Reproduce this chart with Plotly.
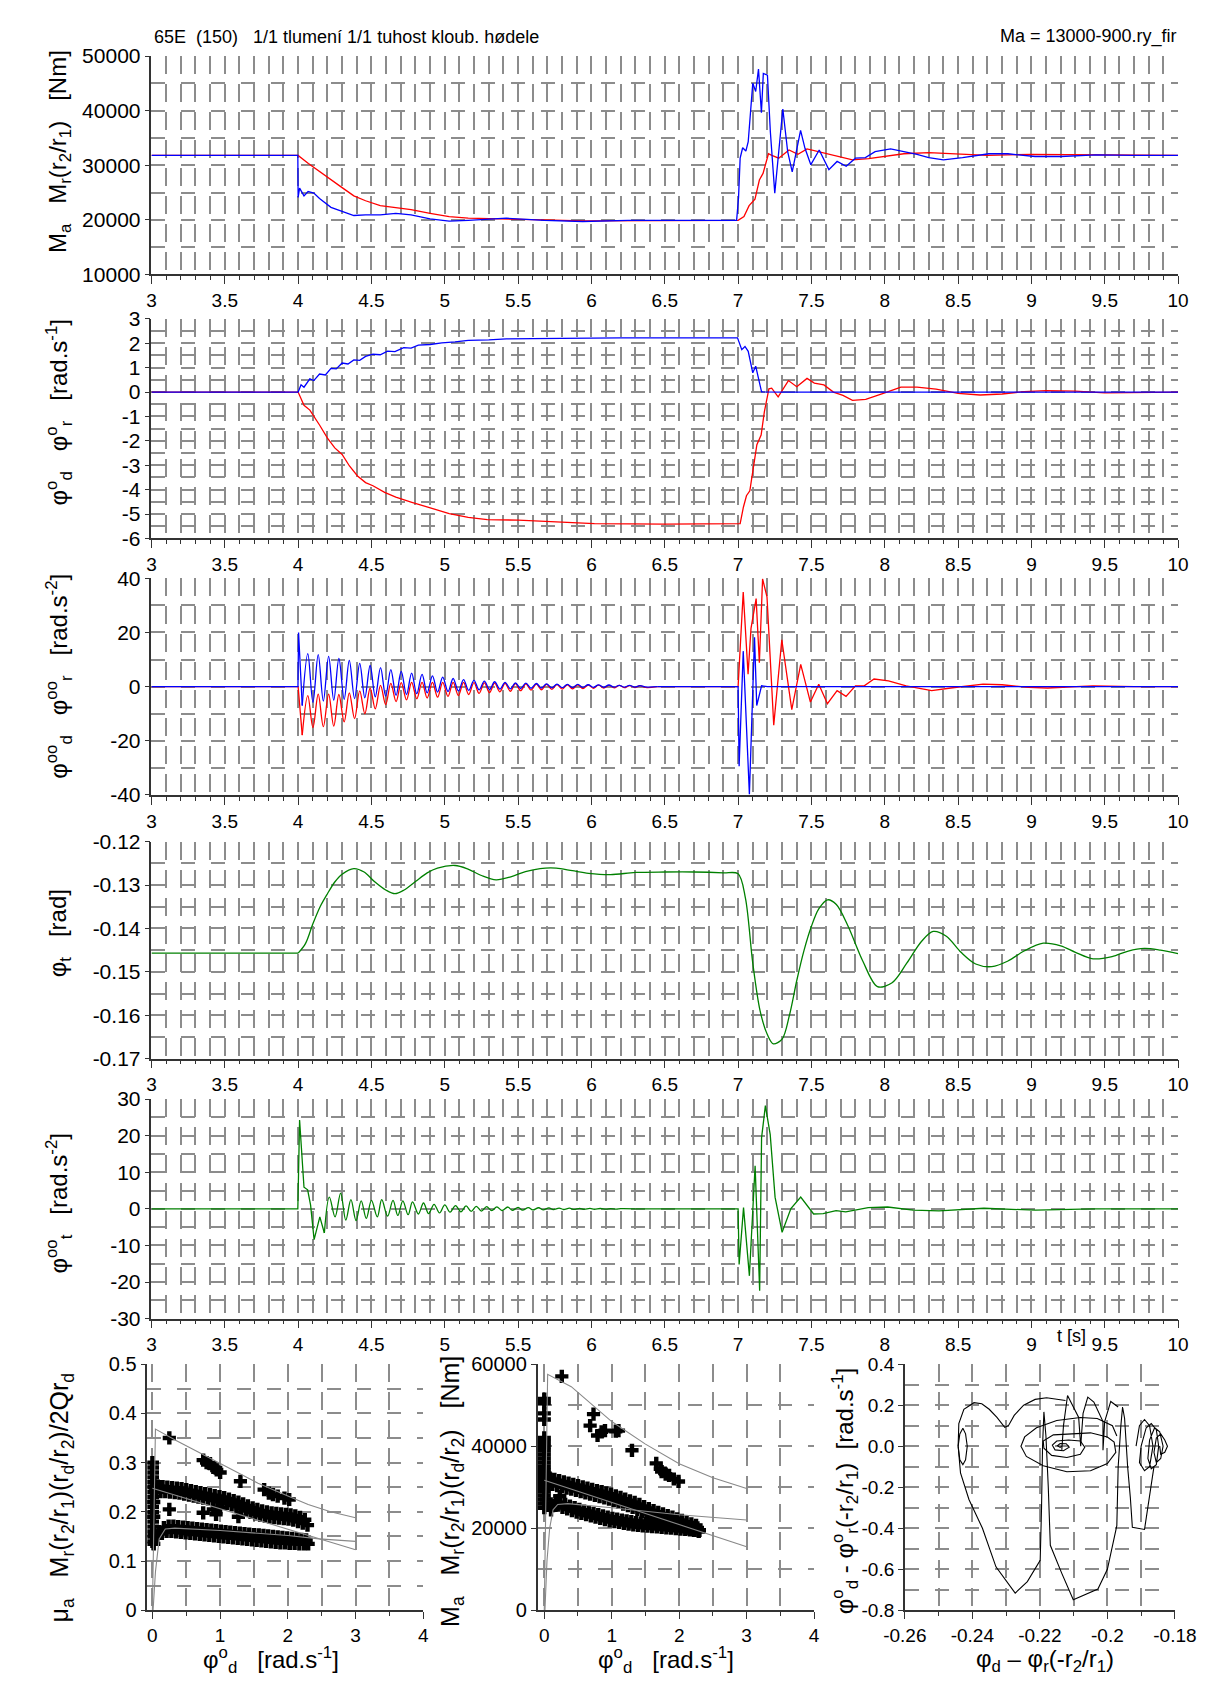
import plotly.graph_objects as go

# ---------------- DATA ----------------
# Panel 1: M_r(r2/r1) (red) and M_a (blue)  [Nm]
t_mr = [3.0, 4.0, 4.07, 4.146, 4.22, 4.30, 4.38, 4.46, 4.56, 4.666, 4.77, 4.9, 5.03, 5.16, 5.42, 5.68, 5.94, 6.3, 6.7,
        7.0, 7.04, 7.075, 7.115, 7.145, 7.17, 7.207, 7.23, 7.277, 7.347, 7.408, 7.47, 7.56, 7.67, 7.78, 7.89, 8.0,
        8.13, 8.3, 8.5, 8.7, 9.0, 9.3, 9.6, 10.0]
mr = [31800, 31800, 30300, 28900, 27400, 25900, 24400, 23500, 22600, 22280, 21860, 21200, 20600, 20300, 20200,
      20000, 19800, 19800, 19900, 19900, 20600, 22600, 23800, 27300, 28500, 32100, 31800, 31300, 32800, 32000,
      33000, 32400, 31600, 31000, 31200, 31600, 32100, 32300, 32000, 31800, 32000, 31900, 31800, 31800]
t_ma = [3.0, 3.998, 4.0, 4.01, 4.04, 4.068, 4.107, 4.146, 4.224, 4.30, 4.38, 4.46, 4.56, 4.666, 4.77, 4.9, 5.03,
        5.16, 5.42, 5.68, 5.94, 6.25, 6.6, 6.99, 7.003, 7.014, 7.031, 7.053, 7.069, 7.10, 7.12, 7.139, 7.159, 7.172,
        7.20, 7.22, 7.25, 7.277, 7.305, 7.338, 7.369, 7.426, 7.456, 7.496, 7.553, 7.619, 7.675, 7.737, 7.80, 7.868,
        7.934, 8.04, 8.13, 8.22, 8.30, 8.40, 8.53, 8.71, 8.84, 9.025, 9.2, 9.44, 9.7, 10.0]
ma = [31800, 31800, 24100, 25800, 24400, 25200, 24900, 23900, 22300, 21500, 20800, 20900, 20900, 21200, 20900,
      20200, 19750, 19900, 20300, 19900, 19700, 19900, 19900, 19900, 24100, 31300, 33200, 32600, 34300, 45000,
      43500, 47600, 39600, 46800, 46500, 36100, 24900, 31900, 40300, 32500, 28800, 36400, 33100, 30100, 32800,
      29200, 30700, 29800, 31300, 31400, 32500, 33000, 32500, 32000, 31400, 31000, 31400, 32100, 32100, 31600,
      31600, 31900, 31800, 31800]

# Panel 2: angular velocities [rad/s]
t_wd = [3.0, 4.0, 4.02, 4.04, 4.08, 4.107, 4.146, 4.186, 4.224, 4.26, 4.30, 4.34, 4.38, 4.42, 4.46, 4.51, 4.56,
        4.61, 4.66, 4.72, 4.77, 4.82, 4.9, 4.98, 5.07, 5.16, 5.3, 5.42, 5.6, 5.81, 6.2, 6.6, 6.996, 7.025, 7.047,
        7.069, 7.10, 7.12, 7.16, 7.3, 8.0, 9.0, 10.0]
wd = [0.0, 0.0, 0.30, 0.20, 0.54, 0.47, 0.74, 0.70, 0.97, 0.95, 1.19, 1.15, 1.32, 1.30, 1.46, 1.55, 1.53, 1.68,
      1.66, 1.82, 1.80, 1.92, 1.95, 2.02, 2.06, 2.12, 2.14, 2.18, 2.19, 2.21, 2.22, 2.22, 2.22, 1.74, 1.87, 1.67,
      0.79, 1.06, 0.01, 0.0, 0.0, 0.0, 0.0]
t_wr = [3.0, 4.0, 4.04, 4.08, 4.146, 4.2, 4.25, 4.30, 4.35, 4.405, 4.46, 4.51, 4.59, 4.666, 4.77, 4.9, 5.03, 5.16,
        5.29, 5.5, 5.81, 6.02, 6.5, 7.0, 7.014, 7.036, 7.057, 7.08, 7.106, 7.128, 7.157, 7.179, 7.21, 7.229, 7.273,
        7.343, 7.40, 7.47, 7.52, 7.585, 7.65, 7.715, 7.78, 7.87, 8.0, 8.11, 8.22, 8.35, 8.5, 8.65, 8.8, 8.95, 9.1,
        9.3, 9.5, 9.7, 10.0]
wr = [0.0, 0.0, -0.54, -0.74, -1.35, -1.89, -2.29, -2.56, -3.03, -3.44, -3.71, -3.84, -4.11, -4.31, -4.51, -4.74,
      -4.98, -5.14, -5.23, -5.25, -5.35, -5.39, -5.41, -5.42, -5.39, -4.72, -4.25, -4.05, -2.97, -2.16, -1.76,
      -0.81, 0.13, 0.16, -0.20, 0.47, 0.22, 0.56, 0.37, 0.29, 0.0, -0.14, -0.34, -0.30, -0.03, 0.20, 0.20, 0.12,
      -0.05, -0.12, -0.08, 0.02, 0.06, 0.04, -0.03, -0.03, 0.0]

# Panel 3: angular accelerations [rad/s^2]; oscillation after t=4 read peak by peak
osc_t_peak = [4.066, 4.137, 4.208, 4.278, 4.349, 4.420, 4.491, 4.562, 4.632, 4.703, 4.774, 4.845, 4.916, 4.986,
              5.057, 5.128, 5.199, 5.270, 5.340, 5.411, 5.482, 5.553, 5.624, 5.694, 5.765, 5.836, 5.907, 5.978,
              6.048, 6.119, 6.190, 6.260, 6.331]
osc_t_trough = [4.101, 4.172, 4.243, 4.314, 4.385, 4.455, 4.526, 4.597, 4.668, 4.739, 4.809, 4.880, 4.951, 5.022,
                5.093, 5.163, 5.234, 5.305, 5.376, 5.447, 5.517, 5.588, 5.659, 5.730, 5.801, 5.871, 5.942, 6.013,
                6.084, 6.155, 6.225, 6.296, 6.367]
ad_peak = [12.2, 11.8, 11.2, 10.4, 9.7, 8.6, 7.8, 7.0, 6.3, 5.6, 5.0, 4.5, 4.0, 3.5, 3.0, 2.6, 2.3, 2.0, 1.8, 1.6,
           1.4, 1.3, 1.15, 1.05, 0.95, 0.85, 0.8, 0.7, 0.65, 0.6, 0.5, 0.45, 0.4]
ad_trough = [-5.8, -5.3, -5.0, -4.7, -4.4, -4.1, -3.8, -3.5, -3.2, -2.9, -2.6, -2.3, -2.0, -1.8, -1.6, -1.4, -1.2,
             -1.05, -0.9, -0.8, -0.7, -0.6, -0.5, -0.45, -0.4, -0.35, -0.3, -0.27, -0.24, -0.2, -0.18, -0.15, -0.12]
ar_peak = [-3.3, -2.8, -2.8, -2.9, -2.3, -1.6, -0.6, 0.5, 1.2, 1.5, 1.6, 1.6, 1.6, 1.6, 1.6, 1.6, 1.5, 1.4, 1.3,
           1.2, 1.1, 1.0, 0.9, 0.8, 0.75, 0.7, 0.65, 0.6, 0.55, 0.5, 0.45, 0.4, 0.35]
ar_trough = [-15.1, -14.8, -14.6, -13.0, -11.8, -10.0, -8.2, -6.6, -5.5, -4.9, -4.5, -4.2, -3.9, -3.6, -3.3, -2.9,
             -2.5, -2.2, -1.9, -1.7, -1.5, -1.3, -1.15, -1.0, -0.9, -0.8, -0.7, -0.6, -0.5, -0.45, -0.4, -0.35, -0.3]
t_ad_start = [3.0, 3.999, 4.003, 4.028]
ad_start = [0.0, 0.0, 20.0, -7.0]
t_ar_start = [3.0, 4.0, 4.028]
ar_start = [0.0, 0.0, -17.9]
t_ad_end = [6.45, 7.0, 7.007, 7.035, 7.077, 7.112, 7.127, 7.16, 7.2, 10.0]
ad_end = [0.0, 0.0, -29.4, 13.1, -39.7, 18.2, -7.0, 0.3, 0.0, 0.0]
t_ar_end = [6.45, 7.0, 7.035, 7.068, 7.088, 7.123, 7.145, 7.167, 7.197, 7.243, 7.298, 7.366, 7.427, 7.493, 7.55,
            7.609, 7.675, 7.736, 7.80, 7.86, 7.927, 8.025, 8.146, 8.32, 8.45, 8.67, 8.80, 8.98, 9.11, 9.42, 9.7, 10.0]
ar_end = [0.0, 0.0, 34.9, 4.6, 21.5, 32.5, 8.8, 39.8, 33.1, -14.2, 17.3, -8.5, 8.2, -5.7, 0.9, -6.3, -1.5, -3.6,
          0.3, 0.3, 2.8, 2.1, 0.3, -1.5, -0.5, 0.9, 0.7, -0.3, -0.5, 0.3, 0.0, 0.0]

# Panel 4: phi_t [rad]
t_pt_flat = [3.0, 4.0]
pt_flat = [-0.1457, -0.1457]
t_pt = [4.0, 4.05, 4.1, 4.15, 4.2, 4.25, 4.3, 4.38, 4.45, 4.52, 4.6, 4.66, 4.72, 4.8, 4.88, 4.95, 5.07, 5.15,
        5.25, 5.35, 5.45, 5.55, 5.65, 5.76, 5.87, 5.98, 6.13, 6.3, 6.5, 6.7, 6.9, 7.0, 7.05, 7.1, 7.15, 7.2, 7.24,
        7.3, 7.35, 7.4, 7.45, 7.5, 7.55, 7.61, 7.67, 7.75, 7.85, 7.95, 8.05, 8.15, 8.25, 8.33, 8.42, 8.52, 8.62,
        8.73, 8.84, 8.95, 9.08, 9.2, 9.3, 9.42, 9.55, 9.66, 9.77, 9.88, 10.0]
pt = [-0.1457, -0.1435, -0.1390, -0.1350, -0.1320, -0.1293, -0.1275, -0.1262, -0.1270, -0.1292, -0.1312,
      -0.1320, -0.1312, -0.1292, -0.1272, -0.1261, -0.1255, -0.1262, -0.1278, -0.1288, -0.1281, -0.1269, -0.1262,
      -0.1261, -0.1267, -0.1273, -0.1276, -0.1271, -0.1270, -0.1270, -0.1272, -0.1274, -0.1330, -0.1480, -0.1590,
      -0.1645, -0.1666, -0.1655, -0.1600, -0.1520, -0.1450, -0.1395, -0.1355, -0.1334, -0.1345, -0.1395, -0.1475,
      -0.1534, -0.1525, -0.1480, -0.1430, -0.1407, -0.1418, -0.1455, -0.1482, -0.1488, -0.1475, -0.1452, -0.1434,
      -0.1440, -0.1455, -0.1470, -0.1465, -0.1452, -0.1446, -0.1450, -0.1458]

# Panel 5: phi_t'' [rad/s^2]
t_at_a = [3.0, 3.998, 4.01, 4.04, 4.065, 4.085, 4.109, 4.148, 4.179]
at_a = [0.0, 0.0, 24.3, 5.9, 5.2, 1.0, -8.4, -2.2, -6.6]
t_at_b = [4.179, 4.213, 4.252, 4.29, 4.325, 4.36, 4.395, 4.43, 4.465, 4.50, 4.54, 4.57, 4.61, 4.647, 4.68, 4.714,
          4.75, 4.78, 4.82, 4.855, 4.89, 4.927, 4.964, 5.0, 5.036, 5.073, 5.11, 5.145, 5.18, 5.215, 5.25, 5.285,
          5.32, 5.355, 5.39, 5.43, 5.46, 5.5, 5.53, 5.57, 5.6, 5.64, 5.67, 5.71, 5.74, 5.78, 5.81, 5.85, 5.88, 5.92,
          5.95, 5.99, 6.02, 6.06, 6.1, 6.13, 6.17, 6.2, 6.3]
at_b = [-6.6, 3.2, -2.2, 4.3, -3.1, 2.5, -3.2, 2.2, -2.6, 2.3, -2.2, 2.5, -2.0, 2.3, -1.8, 2.2, -1.6, 1.9, -1.4,
        1.6, -1.3, 1.25, -1.1, 1.1, -0.9, 0.9, -0.8, 0.8, -0.7, 0.7, -0.6, 0.6, -0.5, 0.55, -0.45, 0.5, -0.4, 0.4,
        -0.35, 0.35, -0.3, 0.3, -0.25, 0.25, -0.2, 0.22, -0.18, 0.18, -0.15, 0.15, -0.12, 0.12, -0.1, 0.1, -0.08,
        0.08, -0.05, 0.05, 0.0]
t_at_c = [6.3, 7.0, 7.007, 7.037, 7.077, 7.116, 7.147, 7.16, 7.186, 7.219, 7.252, 7.30, 7.36, 7.427, 7.515, 7.58,
          7.668, 7.734, 7.887, 8.02, 8.194, 8.37, 8.676, 9.027, 9.42, 10.0]
at_c = [0.0, 0.0, -15.2, 0.35, -18.3, 11.8, -22.4, 19.4, 28.2, 20.3, 3.2, -6.4, 0.1, 3.2, -1.4, -1.3, -0.5, -0.8,
        0.35, 0.5, -0.37, -0.55, 0.17, -0.37, 0.0, 0.0]

# Bottom-left: mu_a vs phi_d' (markers) and fitted curves
mu_col = [(0, 0.30), (0, 0.29), (0, 0.28), (0, 0.27), (0, 0.26), (0, 0.25), (0, 0.24), (0, 0.23), (0, 0.22),
          (0, 0.21), (0, 0.20), (0, 0.19), (0, 0.18), (0, 0.17), (0, 0.16), (0, 0.15), (0, 0.14), (0.02, 0.135),
          (0.03, 0.155), (0.03, 0.26), (0.04, 0.24), (0.02, 0.22), (0.02, 0.19)]
mu_out = [(0.25, 0.35), (0.25, 0.205), (0.75, 0.198), (0.9, 0.205), (0.94, 0.195), (1.0, 0.208), (1.27, 0.19)]
mu_up = [(0.75, 0.305), (0.8, 0.30), (0.85, 0.298), (0.9, 0.29), (0.95, 0.285), (1.0, 0.28), (1.3, 0.262),
         (1.65, 0.245), (1.72, 0.238), (1.78, 0.235), (1.85, 0.232), (1.95, 0.228), (2.02, 0.225)]
mu_mid1 = [(0.08, 0.252), (0.15, 0.251), (0.22, 0.250), (0.29, 0.249), (0.36, 0.248), (0.43, 0.247), (0.5, 0.245),
           (0.57, 0.243), (0.64, 0.241), (0.71, 0.239), (0.78, 0.237), (0.85, 0.235), (0.92, 0.233), (0.99, 0.231),
           (1.06, 0.229), (1.13, 0.226), (1.2, 0.223), (1.27, 0.22), (1.34, 0.216), (1.41, 0.212), (1.48, 0.208),
           (1.55, 0.205), (1.62, 0.202), (1.69, 0.2), (1.76, 0.198), (1.83, 0.197), (1.9, 0.196), (1.97, 0.195),
           (2.04, 0.194), (2.11, 0.192), (2.18, 0.189), (2.25, 0.184)]
mu_mid2 = [(0.05, 0.242), (0.12, 0.241), (0.19, 0.241), (0.26, 0.24), (0.33, 0.239), (0.4, 0.238), (0.47, 0.236),
           (0.54, 0.234), (0.61, 0.232), (0.68, 0.23), (0.75, 0.228), (0.82, 0.226), (0.89, 0.224), (0.96, 0.222),
           (1.03, 0.22), (1.1, 0.217), (1.17, 0.214), (1.24, 0.211), (1.31, 0.207), (1.38, 0.203), (1.45, 0.199),
           (1.52, 0.196), (1.59, 0.193), (1.66, 0.191), (1.73, 0.189), (1.8, 0.188), (1.87, 0.187), (1.94, 0.186),
           (2.01, 0.185), (2.08, 0.183), (2.15, 0.18), (2.22, 0.177), (2.29, 0.173)]
mu_low1 = [(0.1, 0.16), (0.17, 0.168), (0.24, 0.171), (0.31, 0.171), (0.38, 0.17), (0.45, 0.169), (0.52, 0.168),
           (0.59, 0.167), (0.66, 0.166), (0.73, 0.165), (0.8, 0.164), (0.87, 0.163), (0.94, 0.162), (1.01, 0.161),
           (1.08, 0.16), (1.15, 0.159), (1.22, 0.158), (1.29, 0.157), (1.36, 0.156), (1.43, 0.155), (1.5, 0.154),
           (1.57, 0.153), (1.64, 0.152), (1.71, 0.151), (1.78, 0.15), (1.85, 0.149), (1.92, 0.148), (1.99, 0.147),
           (2.06, 0.146), (2.13, 0.145), (2.2, 0.144), (2.27, 0.143)]
mu_low2 = [(0.07, 0.148), (0.14, 0.156), (0.21, 0.16), (0.28, 0.16), (0.35, 0.159), (0.42, 0.158), (0.49, 0.157),
           (0.56, 0.156), (0.63, 0.155), (0.7, 0.154), (0.77, 0.153), (0.84, 0.152), (0.91, 0.151), (0.98, 0.15),
           (1.05, 0.149), (1.12, 0.148), (1.19, 0.147), (1.26, 0.146), (1.33, 0.145), (1.4, 0.144), (1.47, 0.143),
           (1.54, 0.142), (1.61, 0.141), (1.68, 0.14), (1.75, 0.139), (1.82, 0.138), (1.89, 0.137), (1.96, 0.137),
           (2.03, 0.136), (2.1, 0.136), (2.17, 0.135), (2.24, 0.135), (2.3, 0.135)]
mu_fit_top = [(0.0, 0.0), (0.045, 0.368), (0.35, 0.345), (0.72, 0.318), (1.23, 0.282), (1.56, 0.258), (2.0, 0.232),
              (2.3, 0.215), (2.63, 0.2), (3.0, 0.188)]
mu_fit_line = [(0.0, 0.248), (3.0, 0.123)]
mu_fit_low = [(0.01, 0.0), (0.045, 0.078), (0.1, 0.145), (0.19, 0.165), (0.33, 0.167), (1.0, 0.162), (2.0, 0.152),
              (2.46, 0.145), (3.0, 0.14)]

# Bottom-middle: M_a vs phi_d'
mm_col = [(0, 25000), (0, 26000), (0, 27000), (0, 28000), (0, 29000), (0, 30000), (0, 31000), (0, 32000),
          (0, 33000), (0, 34000), (0, 35000), (0, 36000), (0, 37000), (0, 38000), (0, 39000), (0, 40000),
          (0, 41000), (0, 42000), (0, 46500), (0, 48000), (0, 50500), (0, 51500), (0.03, 27000), (0.03, 33000)]
mm_out = [(0.26, 57000), (0.23, 27800), (1.3, 39000)]
mm_up = [(0.68, 45000), (0.73, 47800), (0.79, 42600), (0.85, 43500), (0.9, 43800), (1.06, 43650), (1.1, 43800),
         (1.66, 35800), (1.72, 34500), (1.74, 33800), (1.8, 33200), (1.85, 32900), (1.92, 32000), (1.99, 31400)]
mm_a1 = [(0.08, 32200), (0.15, 31900), (0.22, 31600), (0.29, 31300), (0.36, 31000), (0.43, 30700), (0.5, 30400),
         (0.57, 30100), (0.64, 29800), (0.71, 29500), (0.78, 29200), (0.85, 28900), (0.92, 28600), (0.99, 28300),
         (1.06, 27900), (1.13, 27500), (1.2, 27100), (1.27, 26700), (1.34, 26300), (1.41, 25800), (1.48, 25300),
         (1.55, 24800), (1.62, 24300), (1.69, 23900), (1.76, 23500), (1.83, 23100), (1.9, 22700), (1.97, 22300),
         (2.04, 21900), (2.11, 21500), (2.18, 21100), (2.25, 20700)]
mm_a2 = [(0.05, 31000), (0.12, 30700), (0.19, 30400), (0.26, 30100), (0.33, 29800), (0.4, 29500), (0.47, 29200),
         (0.54, 28900), (0.61, 28600), (0.68, 28300), (0.75, 28000), (0.82, 27700), (0.89, 27400), (0.96, 27100),
         (1.03, 26700), (1.1, 26300), (1.17, 25900), (1.24, 25500), (1.31, 25100), (1.38, 24600), (1.45, 24100),
         (1.52, 23600), (1.59, 23100), (1.66, 22700), (1.73, 22300), (1.8, 21900), (1.87, 21500), (1.94, 21100),
         (2.01, 20700), (2.08, 20300), (2.15, 19900), (2.22, 19500), (2.29, 19200)]
mm_b1 = [(0.1, 24500), (0.17, 26500), (0.24, 26200), (0.31, 25800), (0.38, 25400), (0.45, 25000), (0.52, 24600),
         (0.59, 24200), (0.66, 23900), (0.73, 23600), (0.8, 23300), (0.87, 23000), (0.94, 22700), (1.01, 22400),
         (1.08, 22200), (1.15, 22000), (1.22, 21800), (1.29, 21600), (1.36, 21400), (1.43, 21300), (1.5, 21200),
         (1.57, 21100), (1.64, 21000), (1.71, 20900), (1.78, 20800), (1.85, 20700), (1.92, 20600), (1.99, 20500),
         (2.06, 20400), (2.13, 20300), (2.2, 20200), (2.27, 20100)]
mm_b2 = [(0.13, 25500), (0.2, 25600), (0.27, 25100), (0.34, 24700), (0.41, 24300), (0.48, 23900), (0.55, 23600),
         (0.62, 23300), (0.69, 23000), (0.76, 22700), (0.83, 22400), (0.9, 22100), (0.97, 21800), (1.04, 21600),
         (1.11, 21400), (1.18, 21200), (1.25, 21000), (1.32, 20800), (1.39, 20700), (1.46, 20600), (1.53, 20500),
         (1.6, 20400), (1.67, 20300), (1.74, 20200), (1.81, 20100), (1.88, 20000), (1.95, 19900), (2.02, 19800),
         (2.09, 19700), (2.16, 19600), (2.23, 19500), (2.3, 19500)]
mm_fit_top = [(0.0, 0), (0.05, 57500), (0.4, 54500), (0.8, 48800), (1.0, 46000), (1.5, 40500), (2.0, 35700),
              (2.5, 32300), (3.0, 29700)]
mm_fit_line = [(0.0, 31700), (3.0, 15500)]
mm_fit_low = [(0.01, 0), (0.04, 12000), (0.08, 20000), (0.13, 24500), (0.2, 25800), (0.35, 26000), (1.0, 25000),
              (2.0, 23300), (3.0, 22000)]

# Bottom-right: phase trajectory (segments)
ph_eq = [(-0.2442, 0.000), (-0.2437, 0.060), (-0.2428, 0.087), (-0.2420, 0.060), (-0.2415, 0.000),
         (-0.2420, -0.066), (-0.2428, -0.090), (-0.2437, -0.066), (-0.2442, 0.000)]
ph_heart = [(-0.2442, 0.000), (-0.2440, 0.110), (-0.2425, 0.180), (-0.2395, 0.212), (-0.2372, 0.207),
            (-0.2350, 0.180), (-0.2327, 0.140), (-0.2304, 0.092), (-0.2293, 0.100), (-0.2276, 0.150),
            (-0.2248, 0.200), (-0.2214, 0.228), (-0.2180, 0.236), (-0.2146, 0.230), (-0.2124, 0.223)]
ph_spiral = [(-0.1972, 0.050), (-0.1985, 0.100), (-0.2030, 0.135), (-0.2080, 0.140), (-0.2150, 0.125),
             (-0.2210, 0.090), (-0.2245, 0.045), (-0.2256, 0.000), (-0.2240, -0.050), (-0.2190, -0.095),
             (-0.2120, -0.125), (-0.2050, -0.120), (-0.2000, -0.085), (-0.1975, -0.030), (-0.1980, 0.020),
             (-0.2000, 0.045), (-0.2050, 0.065), (-0.2100, 0.062), (-0.2160, 0.055), (-0.2190, 0.025),
             (-0.2188, -0.010), (-0.2165, -0.045), (-0.2120, -0.055), (-0.2080, -0.040), (-0.2067, -0.005),
             (-0.2080, 0.025), (-0.2115, 0.030), (-0.2150, 0.025), (-0.2163, 0.005), (-0.2155, -0.018),
             (-0.2130, -0.022), (-0.2113, -0.005), (-0.2122, 0.012), (-0.2140, 0.013), (-0.2148, 0.002),
             (-0.2140, -0.006), (-0.2135, 0.000)]
ph_v = [(-0.2442, 0.000), (-0.2435, -0.130), (-0.2410, -0.260), (-0.2370, -0.400), (-0.2330, -0.588),
        (-0.2273, -0.716), (-0.2237, -0.660), (-0.2199, -0.556), (-0.2195, -0.300), (-0.2192, 0.000),
        (-0.2188, 0.167), (-0.2182, 0.050), (-0.2175, -0.200), (-0.2169, -0.483), (-0.2135, -0.620),
        (-0.2101, -0.749), (-0.2028, -0.696), (-0.2000, -0.600), (-0.1972, -0.387), (-0.1968, -0.100),
        (-0.1960, 0.100), (-0.1955, 0.191), (-0.1949, 0.135), (-0.1940, -0.100), (-0.1932, -0.250),
        (-0.1926, -0.395), (-0.1890, -0.406), (-0.1876, -0.250), (-0.1862, -0.100)]
ph_zig = [(-0.2135, -0.018), (-0.2130, 0.100), (-0.2118, 0.247), (-0.2096, 0.175), (-0.2085, 0.140),
          (-0.2079, 0.000), (-0.2072, 0.160), (-0.2058, 0.239), (-0.2040, 0.215), (-0.2013, 0.120),
          (-0.2013, -0.020), (-0.2008, 0.120), (-0.1990, 0.218), (-0.1968, 0.191)]
ph_right = [(-0.1915, 0.000), (-0.1905, 0.100), (-0.1890, 0.130), (-0.1875, 0.100), (-0.1865, 0.000),
            (-0.1875, -0.100), (-0.1890, -0.120), (-0.1905, -0.080), (-0.1900, 0.000), (-0.1885, 0.090),
            (-0.1870, 0.110), (-0.1855, 0.080), (-0.1848, 0.000), (-0.1855, -0.090), (-0.1870, -0.110),
            (-0.1880, -0.060), (-0.1875, 0.030), (-0.1860, 0.090), (-0.1845, 0.070), (-0.1835, 0.000),
            (-0.1842, -0.060), (-0.1855, -0.080), (-0.1862, -0.030), (-0.1855, 0.040), (-0.1842, 0.060),
            (-0.1830, 0.030), (-0.1822, 0.000), (-0.1830, -0.030), (-0.1842, -0.040), (-0.1845, 0.000)]

# Tick labels
p2_ticks = [-6, -5, -4, -3, -2, -1, 0, 1, 2, 3]
p2_text = ["-6", "-5", "-4", "-3", "-2", "-1", "0", "1", "2", "3"]
p3_ticks = [-40, -20, 0, 20, 40]
p3_text = ["-40", "-20", "0", "20", "40"]
p4_ticks = [-0.17, -0.16, -0.15, -0.14, -0.13, -0.12]
p4_text = ["-0.17", "-0.16", "-0.15", "-0.14", "-0.13", "-0.12"]
p5_ticks = [-30, -20, -10, 0, 10, 20, 30]
p5_text = ["-30", "-20", "-10", "0", "10", "20", "30"]
br_xticks = [-0.26, -0.24, -0.22, -0.2, -0.18]
br_xtext = ["-0.26", "-0.24", "-0.22", "-0.2", "-0.18"]
br_yticks = [-0.8, -0.6, -0.4, -0.2, 0.0, 0.2, 0.4]
br_ytext = ["-0.8", "-0.6", "-0.4", "-0.2", "0.0", "0.2", "0.4"]

# ---------------- FIGURE ----------------
W, H = 1221, 1686
FONT = "Liberation Sans, Arial, sans-serif"
GRID = "#8c8c8c"
AX = "#333333"
RED, BLUE, GREEN = "#ff0000", "#0000ff", "#008000"
NB = "\u00a0"


def fx(px):
    return px / W


def fy(py):
    return 1 - py / H


def xs(pairs):
    return [p[0] for p in pairs]


def ys(pairs):
    return [p[1] for p in pairs]


def join(*segs):
    x, y = [], []
    for s in segs:
        x += xs(s) + [None]
        y += ys(s) + [None]
    return x, y


def interleave(tp, vp, tt, vt):
    t, v = [], []
    for a, b, c, d in zip(tp, vp, tt, vt):
        t += [a, c]
        v += [b, d]
    return t, v


fig = go.Figure()


def line(x, y, n, color, shape="linear", width=1.3, smoothing=0.8):
    fig.add_trace(go.Scatter(x=x, y=y, mode="lines", xaxis="x" + n, yaxis="y" + n, hoverinfo="skip",
                             line=dict(color=color, width=width, shape=shape, smoothing=smoothing)))


def marks(pairs, n):
    fig.add_trace(go.Scatter(x=xs(pairs), y=ys(pairs), mode="markers", xaxis="x" + n, yaxis="y" + n,
                             hoverinfo="skip",
                             marker=dict(symbol="cross", size=11, color="black", line=dict(width=0))))


# panel 1
line(t_mr, mr, "", RED)
line(t_ma, ma, "", BLUE)
# panel 2
line(t_wr, wr, "2", RED)
line(t_wd, wd, "2", BLUE)
# panel 3
tb, vb = interleave(osc_t_peak, ad_peak, osc_t_trough, ad_trough)
tr, vr = interleave(osc_t_peak, ar_peak, osc_t_trough, ar_trough)
line(t_ar_start, ar_start, "3", RED)
line([t_ar_start[-1]] + tr + [t_ar_end[0]], [ar_start[-1]] + vr + [ar_end[0]], "3", RED, "spline", smoothing=1.0)
line(t_ar_end, ar_end, "3", RED)
line(t_ad_start, ad_start, "3", BLUE)
line([t_ad_start[-1]] + tb + [t_ad_end[0]], [ad_start[-1]] + vb + [ad_end[0]], "3", BLUE, "spline", smoothing=1.0)
line(t_ad_end, ad_end, "3", BLUE)
# panel 4
line(t_pt_flat, pt_flat, "4", GREEN)
line(t_pt, pt, "4", GREEN, "spline", smoothing=0.9)
# panel 5
line(t_at_a, at_a, "5", GREEN)
line(t_at_b, at_b, "5", GREEN, "spline", smoothing=1.0)
line(t_at_c, at_c, "5", GREEN)

# bottom left
for grp in (mu_col, mu_out, mu_up, mu_mid1, mu_mid2, mu_low1, mu_low2):
    marks(grp, "6")
for f in (mu_fit_top, mu_fit_line, mu_fit_low):
    line(xs(f), ys(f), "6", "#888888", width=1.1)
# bottom middle
for grp in (mm_col, mm_out, mm_up, mm_a1, mm_a2, mm_b1, mm_b2):
    marks(grp, "7")
for f in (mm_fit_top, mm_fit_line, mm_fit_low):
    line(xs(f), ys(f), "7", "#888888", width=1.1)
# bottom right
px_, py_ = join(ph_eq, ph_heart, ph_spiral, ph_v, ph_zig, ph_right)
fig.add_trace(go.Scatter(x=px_, y=py_, mode="lines", xaxis="x8", yaxis="y8", hoverinfo="skip",
                         connectgaps=False, line=dict(color="black", width=1.1)))

XTF = dict(size=19, color="black", family=FONT)
HDASH = "14px,16px"
VDASH = "18px,10px"


def gridstyle(dash):
    return dict(showgrid=True, gridcolor=GRID, gridwidth=1.5, griddash=dash)


def xaxis_cfg(anchor, x0, x1, rng, dtick, minor, tick0=None, tickvals=None, ticktext=None, ticklen=7):
    d = dict(domain=[fx(x0), fx(x1)], anchor=anchor, range=rng, ticks="outside", ticklen=ticklen,
             tickwidth=1.2, tickcolor=AX, showline=True, linecolor=AX, linewidth=1.5, zeroline=False,
             tickfont=XTF, fixedrange=True, **gridstyle(VDASH))
    d["minor"] = dict(tickmode="linear", tick0=rng[0] if tick0 is None else tick0, dtick=minor, ticks="outside",
                      ticklen=4, tickcolor=AX, **gridstyle(VDASH))
    if tickvals is not None:
        d.update(tickmode="array", tickvals=tickvals, ticktext=ticktext)
    else:
        d.update(tickmode="linear", tick0=rng[0] if tick0 is None else tick0, dtick=dtick)
    return d


def yaxis_cfg(anchor, top, bottom, rng, dtick, minor, tickvals=None, ticktext=None, tick0=None, fsize=21):
    d = dict(domain=[fy(bottom), fy(top)], anchor=anchor, range=rng, ticks="outside", ticklen=5,
             tickwidth=1.2, tickcolor=AX, showline=True, linecolor=AX, linewidth=1.5, zeroline=False,
             tickfont=dict(size=fsize, color="black", family=FONT), fixedrange=True, tickformat="d",
             **gridstyle(HDASH))
    d["minor"] = dict(tickmode="linear", tick0=rng[0] if tick0 is None else tick0, dtick=minor, ticks="",
                      **gridstyle(HDASH))
    if tickvals is not None:
        d.update(tickmode="array", tickvals=tickvals, ticktext=ticktext)
    else:
        d.update(tickmode="linear", tick0=rng[0] if tick0 is None else tick0, dtick=dtick)
    return d


panels = [(36.5, 258), (303, 525.6), (566, 785.7), (833, 1053), (1094, 1316.6)]
yspecs = [
    dict(rng=[10000, 50000], dtick=10000, minor=5000),
    dict(rng=[-6, 3], dtick=1, minor=0.5, tickvals=p2_ticks, ticktext=p2_text),
    dict(rng=[-40, 40], dtick=20, minor=10, tickvals=p3_ticks, ticktext=p3_text),
    dict(rng=[-0.17, -0.12], dtick=0.01, minor=0.005, tickvals=p4_ticks, ticktext=p4_text),
    dict(rng=[-30, 30], dtick=10, minor=5, tickvals=p5_ticks, ticktext=p5_text),
]
layout_axes = {}
for i, ((top, bot), ys_) in enumerate(zip(panels, yspecs)):
    n = "" if i == 0 else str(i + 1)
    layout_axes["xaxis" + n] = xaxis_cfg("y" + n, 126, 1191, [3, 10], 0.5, 0.1, ticklen=8)
    layout_axes["yaxis" + n] = yaxis_cfg("x" + n, top, bot, ys_["rng"], ys_["dtick"], ys_["minor"],
                                         ys_.get("tickvals"), ys_.get("ticktext"))

BT, BB = 1362.7, 1612.3
layout_axes["xaxis6"] = xaxis_cfg("y6", 121.7, 408, [-0.075, 4], 1, 0.5, tick0=0)
layout_axes["yaxis6"] = yaxis_cfg("x6", BT, BB, [0, 0.5], 0.1, 0.05, fsize=20)
layout_axes["yaxis6"]["tickformat"] = ""
layout_axes["xaxis7"] = xaxis_cfg("y7", 526.5, 813.4, [-0.1, 4], 1, 0.5, tick0=0)
layout_axes["yaxis7"] = yaxis_cfg("x7", BT, BB, [0, 60000], 20000, 10000, fsize=20)
layout_axes["xaxis8"] = xaxis_cfg("y8", 907.5, 1187.7, [-0.26, -0.18], 0.02, 0.01, tickvals=br_xticks,
                                  ticktext=br_xtext)
layout_axes["yaxis8"] = yaxis_cfg("x8", BT, BB, [-0.8, 0.4], 0.2, 0.1, tickvals=br_yticks, ticktext=br_ytext,
                                  fsize=19)

ann = []


def txt(x, y, s, size=24, angle=0, xanchor="center", yanchor="middle"):
    ann.append(dict(x=fx(x), y=fy(y), xref="paper", yref="paper", text=s, showarrow=False, textangle=angle,
                    xanchor=xanchor, yanchor=yanchor, font=dict(size=size, color="black", family=FONT)))


sp3 = NB * 3
txt(127, 17, "65E" + NB * 2 + "(150)" + sp3 + "1/1 tlumení 1/1 tuhost kloub. hødele", size=18, xanchor="left")
txt(1192, 17, "Ma = 13000-900.ry_fir", size=18, xanchor="right")
txt(30, 133, "M<sub>a</sub>" + sp3 + "M<sub>r</sub>(r<sub>2</sub>/r<sub>1</sub>)" + sp3 + "[Nm]", angle=-90)
txt(30, 398, "φ<sup>o</sup><sub>d</sub>" + sp3 + "φ<sup>o</sup><sub>r</sub>" + sp3 + "[rad.s<sup>-1</sup>]",
    angle=-90)
txt(30, 665, "φ<sup>oo</sup><sub>d</sub>" + sp3 + "φ<sup>oo</sup><sub>r</sub>" + sp3 + "[rad.s<sup>-2</sup>]",
    angle=-90)
txt(30, 926, "φ<sub>t</sub>" + sp3 + "[rad]", angle=-90)
txt(30, 1199, "φ<sup>oo</sup><sub>t</sub>" + sp3 + "[rad.s<sup>-2</sup>]", angle=-90)
txt(1080, 1334, "t [s]", size=18)
txt(32, 1498, "μ<sub>a</sub>" + sp3 + "M<sub>r</sub>(r<sub>2</sub>/r<sub>1</sub>)(r<sub>d</sub>/r<sub>2</sub>)/2Qr<sub>d</sub>",
    angle=-90, size=25)
txt(437, 1492, "M<sub>a</sub>" + sp3 + "M<sub>r</sub>(r<sub>2</sub>/r<sub>1</sub>)(r<sub>d</sub>/r<sub>2</sub>)" + sp3 + "[Nm]",
    angle=-90, size=25)
txt(845, 1492, "φ<sup>o</sup><sub>d</sub> - φ<sup>o</sup><sub>r</sub>(-r<sub>2</sub>/r<sub>1</sub>)" + NB * 2 +
    "[rad.s<sup>-1</sup>]", angle=-90, size=24)
txt(250, 1663, "φ<sup>o</sup><sub>d</sub>" + sp3 + "[rad.s<sup>-1</sup>]")
txt(660, 1663, "φ<sup>o</sup><sub>d</sub>" + sp3 + "[rad.s<sup>-1</sup>]")
txt(1053, 1663, "φ<sub>d</sub> – φ<sub>r</sub>(-r<sub>2</sub>/r<sub>1</sub>)")

fig.update_layout(width=W, height=H, margin=dict(l=0, r=0, t=0, b=0), paper_bgcolor="white",
                  plot_bgcolor="white", showlegend=False, font=dict(family=FONT, color="black"),
                  annotations=ann, **layout_axes)

fig.write_html("out.html", config={"displayModeBar": False})
